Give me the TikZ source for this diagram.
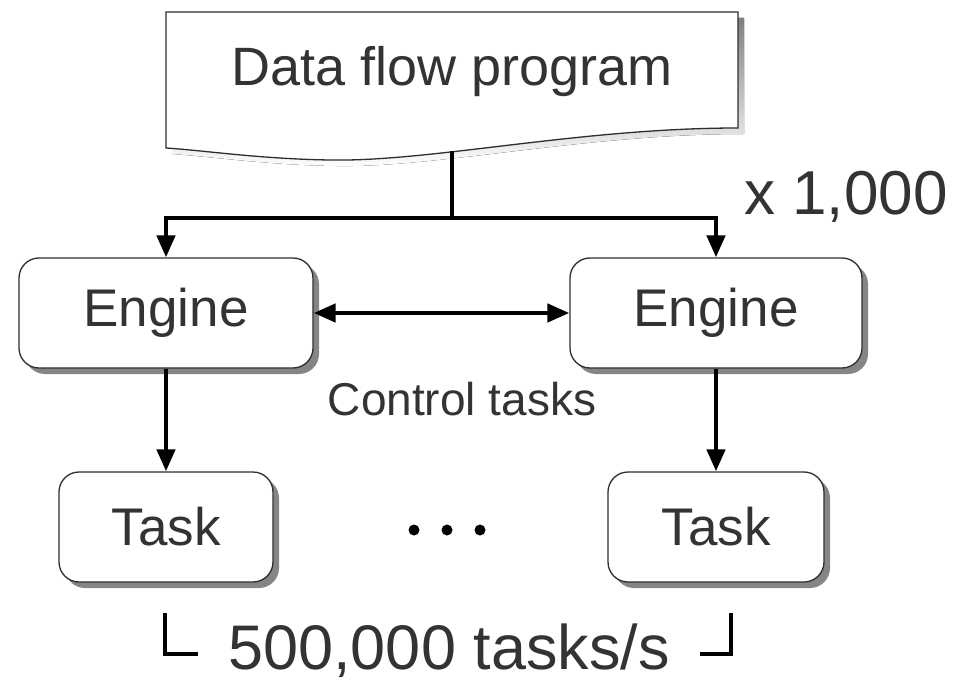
\documentclass[tikz,border=0pt]{standalone}
\usepackage{fontspec}
\setmainfont{Liberation Sans}
\usetikzlibrary{arrows.meta}
\definecolor{ink}{HTML}{333333}
\definecolor{shade}{HTML}{858585}
\begin{document}
\begin{tikzpicture}[x=1pt,y=-1pt,
  box/.style={draw=ink!90!black,line width=1.3pt,fill=white,rounded corners=20pt,
    minimum height=110pt,font=\fontsize{53}{60}\selectfont,text=ink,
    preaction={draw=none,fill=shade,rounded corners=20pt,transform canvas={shift={(6pt,-6pt)}}}},
  head/.tip={Triangle[length=22pt,width=18pt]},
  link/.style={line width=4.5pt,-head},
  bilink/.style={line width=4.5pt,head-head},
  bracket/.style={line width=3.5pt},
  label/.style={text=ink,inner sep=0pt}]
\useasboundingbox (0,0) rectangle (969,687);

% document shape with wavy bottom and drop shadow
\def\docpath{(166,12) -- (738,12) -- (738,128)
  .. controls (580,128) and (430,162) .. (330,160)
  .. controls (260,159) and (200,150) .. (166,148) -- cycle}
\fill[shade,shift={(6,6)}] \docpath;
\draw[fill=white,draw=ink!90!black,line width=1.3pt] \docpath;
\node[label,font=\fontsize{54}{60}\selectfont] (prog) at (452,72) {Data flow program};
\coordinate (progbot) at (452,151);
\coordinate (bus) at (452,218);

% engines
\node[box,minimum width=294pt] (eng1) at (166,313) {Engine};
\node[box,minimum width=292pt] (eng2) at (716,313) {Engine};

% tasks
\node[box,minimum width=214pt] (task1) at (166,527) {Task};
\node[box,minimum width=216pt] (task2) at (716,527) {Task};

% fan-out from the program to the engines
\draw[line width=4.5pt] (progbot) -- (bus);
\draw[link] (bus) -| (eng1.north);
\draw[link] (bus) -| (eng2.north);

% engine to engine
\draw[bilink] (eng1.east) -- (eng2.west);
\node[label,font=\fontsize{46}{52}\selectfont] (ctl) at (462,399) {Control tasks};

% engines to tasks
\draw[link] (eng1.south) -- (task1.north);
\draw[link] (eng2.south) -- (task2.north);

% scale annotation
\node[label,font=\fontsize{62}{70}\selectfont] (scale) at (846,197) {x 1,000};

% ellipsis between the tasks
\foreach \x in {414,447,480} \fill[black] (\x,530) circle (5.5pt);

% throughput bracket
\draw[bracket] (165,613) -- (165,654) -- (198,654);
\draw[bracket] (700,654) -- (731,654) -- (731,613);
\node[label,font=\fontsize{63}{70}\selectfont] (rate) at (449,651) {500,000 tasks/s};
\end{tikzpicture}
\end{document}
